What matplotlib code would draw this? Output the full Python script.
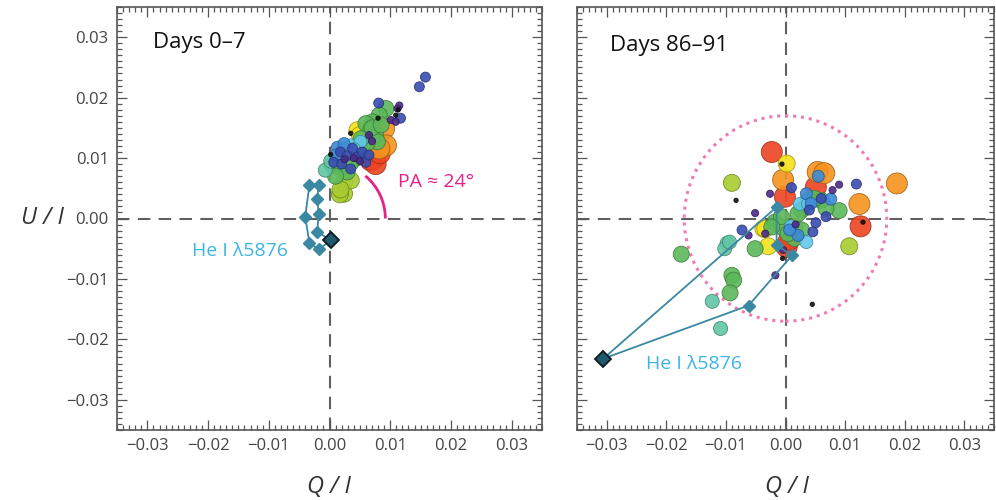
import numpy as np
import matplotlib
matplotlib.use('Agg')
import matplotlib.pyplot as plt
import matplotlib.colors as mcolors
from matplotlib.patches import Arc, Circle
from matplotlib.ticker import MultipleLocator, FixedLocator, FixedFormatter

plt.rcParams['font.family'] = ['Open Sans', 'DejaVu Sans']

# category -> colour (black ... red), small to large
cat_colors = ['#111111', '#4a2a88', '#3a4cb2', '#3d8ad8', '#62c8ea', '#62c6a6',
              '#5cb85a', '#a8cc30', '#f4e21c', '#f5921e', '#ee4422']
cat_radius = [2.2, 3.6, 5.0, 6.0, 6.5, 7.0, 8.0, 8.5, 8.5, 10.5, 10.5]

# Days 0-7
left_q = [0.0090, 0.0093, 0.0082,
          0.0074, 0.0068, 0.0076, 0.0083,
          0.0046, 0.0050,
          0.0024, 0.0017, 0.0024, 0.0035, 0.0018,
          0.0093, 0.0082, 0.0071, 0.0060, 0.0068, 0.0076, 0.0079, 0.0004, 0.0018, 0.0029,
          0.0055, 0.0045, 0.0035, 0.0062, 0.0070, 0.0085, 0.0010, 0.0052,
          -0.0007, 0.0002,
          0.0035, 0.0051, 0.0040, 0.0022,
          0.0013, 0.0024, 0.0010,
          0.0007, 0.0018, 0.0029, 0.0046, 0.0054, 0.0060, 0.0035, 0.0081, 0.0117, 0.0158,
          0.0148, 0.0038, 0.0065, 0.0020,
          0.0115, 0.0112, 0.0101, 0.0109, 0.0065, 0.0040, 0.0050, 0.0025, 0.0070,
          0.0002, 0.0035, 0.0080, 0.0109, 0.0113]
left_u = [0.0149, 0.0121, 0.0116,
          0.0100, 0.0096, 0.0090, 0.0108,
          0.0146, 0.0138,
          0.0041, 0.0040, 0.0060, 0.0063, 0.0048,
          0.0182, 0.0171, 0.0160, 0.0157, 0.0146, 0.0138, 0.0127, 0.0088, 0.0085, 0.0077,
          0.0110, 0.0100, 0.0092, 0.0125, 0.0150, 0.0155, 0.0070, 0.0132,
          0.0080, 0.0095,
          0.0121, 0.0127, 0.0115, 0.0116,
          0.0118, 0.0124, 0.0105,
          0.0093, 0.0110, 0.0104, 0.0102, 0.0110, 0.0093, 0.0082, 0.0191, 0.0166, 0.0234,
          0.0218, 0.0116, 0.0105, 0.0090,
          0.0187, 0.0182, 0.0163, 0.0160, 0.0138, 0.0100, 0.0095, 0.0098, 0.0128,
          0.0106, 0.0141, 0.0166, 0.0171, 0.0180]
left_cat = [9, 9, 9,
            10, 10, 10, 10,
            8, 8,
            7, 7, 7, 7, 7,
            6, 6, 6, 6, 6, 6, 6, 6, 6, 6,
            6, 6, 6, 6, 6, 6, 6, 6,
            5, 5,
            4, 4, 4, 4,
            3, 3, 3,
            2, 2, 2, 2, 2, 2, 2, 2, 2, 2,
            2, 2, 2, 2,
            1, 1, 1, 1, 1, 1, 1, 1, 1,
            0, 0, 0, 0, 0]

# Days 86-91
right_q = [-0.0023, -0.0001, 0.0051, 0.0126, 0.0002, 0.0006,
           -0.0004, 0.0054, 0.0065, 0.0187, 0.0124,
           0.0002, -0.0037, -0.0029, -0.0034,
           -0.0090, 0.0107, 0.0015,
           0.0090, 0.0027, 0.0038, 0.0060, 0.0068, 0.0021, -0.0018, -0.0007, 0.0027,
           0.0015, -0.0007, -0.0023, -0.0051, -0.0175, -0.0090, -0.0087, -0.0093,
           0.0004, 0.0049,
           -0.0098, -0.0102, -0.0094, -0.0123, -0.0109,
           0.0024, 0.0038, 0.0035, 0.0009,
           0.0055, 0.0076, 0.0035, 0.0043, 0.0021, 0.0007,
           0.0010, 0.0060, 0.0068, 0.0040, 0.0119, -0.0073, 0.0046, 0.0051,
           -0.0026, -0.0051, 0.0090, 0.0079, -0.0062, 0.0017, -0.0004, -0.0017, -0.0034,
           -0.0006, -0.0083, -0.0005, 0.0045, 0.0130]
right_u = [0.0110, 0.0036, 0.0052, -0.0013, -0.0047, -0.0035,
           0.0064, 0.0077, 0.0075, 0.0058, 0.0024,
           0.0091, -0.0017, -0.0046, -0.0017,
           0.0059, -0.0046, -0.0014,
           0.0013, 0.0014, 0.0030, 0.0030, 0.0017, 0.0008, -0.0006, -0.0014, -0.0019,
           -0.0033, 0.0003, -0.0014, -0.0050, -0.0059, -0.0094, -0.0102, -0.0123,
           -0.0025, 0.0033,
           -0.0041, -0.0050, -0.0039, -0.0137, -0.0182,
           0.0024, 0.0024, -0.0039, -0.0013,
           0.0070, 0.0032, 0.0041, 0.0025, -0.0028, -0.0019,
           0.0051, 0.0033, 0.0003, 0.0014, 0.0057, -0.0019, -0.0022, -0.0007,
           0.0041, 0.0009, 0.0056, 0.0047, -0.0028, -0.0010, -0.0052, -0.0094, -0.0025,
           0.0090, 0.0030, -0.0066, -0.0142, -0.0006]
right_cat = [10, 10, 10, 10, 10, 10,
             9, 9, 9, 9, 9,
             8, 8, 8, 8,
             7, 7, 7,
             6, 6, 6, 6, 6, 6, 6, 6, 6,
             6, 6, 6, 6, 6, 6, 6, 6,
             6, 6,
             5, 5, 5, 5, 5,
             4, 4, 4, 4,
             3, 3, 3, 3, 3, 3,
             2, 2, 2, 2, 2, 2, 2, 2,
             1, 1, 1, 1, 1, 1, 1, 1, 1,
             0, 0, 0, 0, 0]

# He I 5876 loops (highlighted diamond drawn separately)
left_he_q = [0.0002, -0.0020, -0.0018, -0.0020, -0.0018, -0.0033, -0.0040, -0.0033, -0.0017, 0.0002]
left_he_u = [-0.0036, -0.0022, 0.0008, 0.0033, 0.0056, 0.0056, 0.0003, -0.0041, -0.0051, -0.0036]
right_he_q = [-0.0306, -0.0015, -0.0015, 0.0011, -0.0062, -0.0306]
right_he_u = [-0.0232, 0.0019, -0.0044, -0.0061, -0.0144, -0.0232]

pa_radius = 0.0092
pa_angle = 50
circle_radius = 0.017

tick_vals = [-0.03, -0.02, -0.01, 0.0, 0.01, 0.02, 0.03]
tick_labels = ['\u22120.03', '\u22120.02', '\u22120.01', '0.00', '0.01', '0.02', '0.03']

he_color = '#3a88a2'
label_color = '#3db4e6'


def scatter_panel(ax, q, u, cat):
    q = np.array(q); u = np.array(u); cat = np.array(cat)
    order = np.argsort(-cat, kind='stable')
    fc = [cat_colors[c] for c in cat[order]]
    ec = [tuple(np.array(mcolors.to_rgb(cat_colors[c])) * 0.65) for c in cat[order]]
    s = [(1.44 * cat_radius[c]) ** 2 for c in cat[order]]
    ax.scatter(q[order], u[order], s=s, c=fc, edgecolors=ec, linewidths=0.6,
               alpha=0.9, zorder=3)


def style_axes(ax, show_y):
    ax.set_xlim(-0.035, 0.035)
    ax.set_ylim(-0.035, 0.035)
    ax.axhline(0, color='#606060', lw=1.5, ls=(0, (6, 4)), zorder=1)
    ax.axvline(0, color='#606060', lw=1.5, ls=(0, (6, 4)), zorder=1)
    for axis in (ax.xaxis, ax.yaxis):
        axis.set_major_locator(FixedLocator(tick_vals))
        axis.set_minor_locator(MultipleLocator(0.001))
    ax.xaxis.set_major_formatter(FixedFormatter(tick_labels))
    ax.yaxis.set_major_formatter(FixedFormatter(tick_labels))
    ax.tick_params(which='both', direction='in', top=True, right=True,
                   color='#555555', width=0.9, labelsize=12, labelcolor='#444444')
    ax.tick_params(which='major', length=7, pad=6)
    ax.tick_params(which='minor', length=3.5)
    if not show_y:
        ax.tick_params(labelleft=False)
    for sp in ax.spines.values():
        sp.set_color('#555555')
        sp.set_linewidth(1.2)


fig = plt.figure(figsize=(9.96, 5), dpi=100)
ax1 = fig.add_axes([117 / 996, 70 / 500, 425 / 996, 423 / 500])
ax2 = fig.add_axes([577 / 996, 70 / 500, 417 / 996, 423 / 500])

style_axes(ax1, True)
style_axes(ax2, False)

# left panel
scatter_panel(ax1, left_q, left_u, left_cat)
ax1.plot(left_he_q, left_he_u, color=he_color, lw=1.3, marker='D', ms=6.5,
         mec=he_color, zorder=4)
ax1.plot(left_he_q[-1], left_he_u[-1], marker='D', ms=8, color='#1e5a6c',
         mec='#0a1a20', mew=1.3, ls='none', zorder=5)
ax1.add_patch(Arc((0, 0), 2 * pa_radius, 2 * pa_radius, theta1=0, theta2=pa_angle,
                  color='#e8208a', lw=2, zorder=2))
ax1.text(0.0113, 0.0060, 'PA \u2248 24\u00b0', color='#e8208a', fontsize=14,
         va='center', ha='left')
ax1.text(-0.0227, -0.0053, 'He I \u03bb5876', color=label_color, fontsize=14,
         va='center', ha='left')
ax1.text(0.085, 0.917, 'Days 0\u20137', transform=ax1.transAxes, fontsize=16,
         va='center', ha='left', color='#111111')

# right panel
ax2.add_patch(Circle((0, 0), circle_radius, fill=False, ls=(0, (1, 1.6)),
                     color='#f07ab4', lw=2.2, zorder=2))
scatter_panel(ax2, right_q, right_u, right_cat)
ax2.plot(right_he_q, right_he_u, color=he_color, lw=1.3, marker='D', ms=6.5,
         mec=he_color, zorder=4, markevery=[1, 2, 3, 4])
ax2.plot(right_he_q[0], right_he_u[0], marker='D', ms=8, color='#1e5a6c',
         mec='#0a1a20', mew=1.3, ls='none', zorder=5)
ax2.text(-0.0235, -0.0240, 'He I \u03bb5876', color=label_color, fontsize=14,
         va='center', ha='left')
ax2.text(0.079, 0.908, 'Days 86\u201391', transform=ax2.transAxes, fontsize=16,
         va='center', ha='left', color='#111111')

fig.text(42 / 996, 1 - 218 / 500, 'U / I', style='italic', fontsize=17,
         ha='center', va='center', color='#333333')
fig.text(329 / 996, 1 - 487 / 500, 'Q / I', style='italic', fontsize=17,
         ha='center', va='center', color='#333333')
fig.text(787 / 996, 1 - 487 / 500, 'Q / I', style='italic', fontsize=17,
         ha='center', va='center', color='#333333')

fig.savefig('out.png', dpi=100)
